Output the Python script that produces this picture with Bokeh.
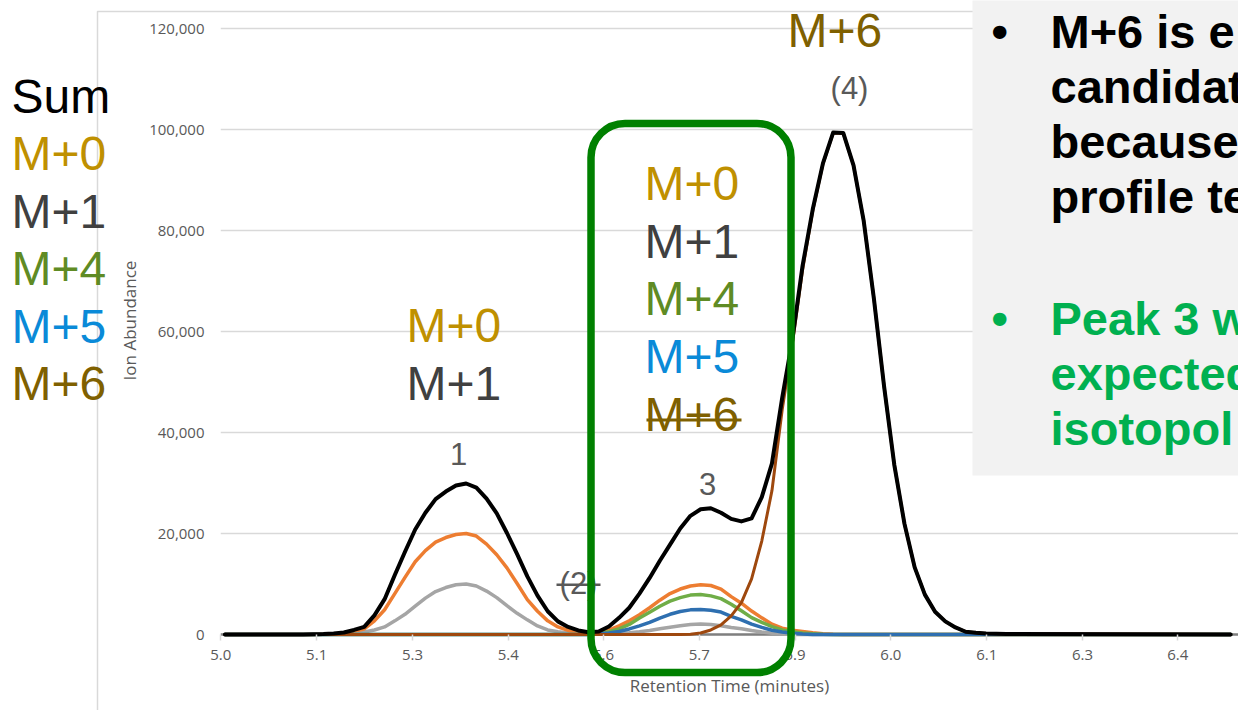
from bokeh.plotting import figure
from bokeh.models import (Label, BoxAnnotation, Span, FixedTicker,
                          NumeralTickFormatter, Range1d)
from bokeh.embed import file_html
from bokeh.resources import INLINE

# ---------------- data ----------------
TIME = [5.000, 5.100, 5.115, 5.130, 5.145, 5.160, 5.175, 5.190, 5.205, 5.220,
        5.235, 5.250, 5.265, 5.280, 5.295, 5.310, 5.325, 5.340, 5.355, 5.370,
        5.385, 5.400, 5.415, 5.430, 5.445, 5.460, 5.475, 5.490, 5.505, 5.520,
        5.535, 5.550, 5.565, 5.580, 5.595, 5.610, 5.625, 5.640, 5.655, 5.670,
        5.685, 5.700, 5.715, 5.730, 5.745, 5.760, 5.775, 5.790, 5.805, 5.820,
        5.835, 5.850, 5.865, 5.880, 5.895, 5.910, 5.925, 5.940, 5.955, 5.970,
        5.985, 6.000, 6.015, 6.030, 6.045, 6.060, 6.075, 6.090, 6.105, 6.120,
        6.135, 6.150, 6.480]

SUM = [0, 0, 0, 50, 100, 200, 400, 900, 1500, 3800,
       7000, 11800, 16400, 20800, 24100, 26800, 28300, 29500, 29900, 29100,
       26900, 24000, 20100, 15900, 11500, 7700, 4600, 2600, 1500, 800,
       450, 600, 1600, 3300, 5300, 8100, 11200, 14600, 17800, 21000,
       23500, 24800, 25000, 24100, 22900, 22400, 23000, 27200, 33900, 46800,
       58400, 73000, 84200, 93300, 99400, 99300, 92900, 81900, 66500, 49100,
       33600, 21900, 13300, 7900, 4500, 2600, 1400, 550, 350, 200,
       150, 100, 0]

M0 = [0, 0, 0, 0, 50, 100, 300, 700, 1100, 2700,
      4900, 8100, 11300, 14400, 16600, 18300, 19200, 19800, 20000, 19500,
      17900, 15800, 13200, 10100, 6900, 4600, 2700, 1500, 800, 250,
      100, 350, 850, 1700, 2700, 3900, 5300, 6800, 8100, 9000,
      9600, 9850, 9700, 9000, 7500, 6200, 4650, 3300, 2050, 1250,
      850, 600, 350, 150, 50, 0, 0, 0, 0, 0,
      0, 0, 0, 0, 0, 0, 0, 0, 0, 0,
      0, 0, 0]

M1 = [0, 0, 0, 0, 0, 50, 100, 250, 500, 900,
      1500, 2700, 4000, 5600, 7200, 8500, 9300, 9850, 10000, 9600,
      8600, 7300, 5700, 4200, 2900, 1700, 900, 550, 300, 100,
      50, 50, 100, 200, 350, 550, 800, 1150, 1450, 1750,
      2000, 2100, 2000, 1750, 1400, 1150, 800, 500, 250, 100,
      0, 0, 0, 0, 0, 0, 0, 0, 0, 0,
      0, 0, 0, 0, 0, 0, 0, 0, 0, 0,
      0, 0, 0]

M4 = [0] * 31 + [200, 550, 1100, 2000, 3250, 4400, 5600, 6600, 7300, 7800,
                 7900, 7650, 7100, 6000, 4700, 3350, 2400, 1550, 900, 550,
                 280, 150, 50] + [0] * 19

M5 = [0] * 31 + [100, 300, 600, 1100, 1700, 2400, 3250, 4000, 4550, 4880,
                 4950, 4800, 4450, 3600, 2900, 2050, 1400, 850, 500, 250,
                 100] + [0] * 21

M6 = [0] * 40 + [50, 300, 900, 1900, 3700, 6300, 11000, 18500, 28500, 44500,
                 57500, 72200, 83900, 93200, 99300, 99200, 92900, 81900, 66500, 49100,
                 33600, 21900, 13300, 7900, 4500, 2600, 1400, 550, 350, 200,
                 150, 100, 0]

Y_TICKS = [0, 20000, 40000, 60000, 80000, 100000, 120000]
X_TICK_POS = [4.994, 5.135, 5.276, 5.417, 5.557, 5.698, 5.839, 5.980, 6.121, 6.262, 6.402]
X_TICK_LABELS = ["5.0", "5.1", "5.3", "5.4", "5.6", "5.7", "5.9", "6.0", "6.1", "6.3", "6.4"]

SERIES = [  # (values, colour, width) in drawing order
    (M1, "#a5a5a5", 3.5),
    (M0, "#ed7d31", 3.5),
    (M4, "#70ad47", 3.5),
    (M5, "#2e6fb0", 3.5),
    (M6, "#9e480e", 3.0),
    (SUM, "#000000", 4.0),
]

GOLD, DARK, OLIVE, BLUE, BROWN, GREY = "#bf9000", "#404040", "#5f8b24", "#0a8ad8", "#7f6000", "#595959"
PANEL_GREEN_COL = "#00b050"
ABS = {"position": "absolute", "left": "0px", "top": "0px"}

# ---------------- chart figure ----------------
p = figure(width=1238, height=710, output_backend="svg", toolbar_location=None,
           x_range=Range1d(4.9935, 6.4915), y_range=Range1d(-1188, 125545),
           min_border_left=220, min_border_right=0, min_border_top=0,
           min_border_bottom=70,
           x_axis_label="Retention Time (minutes)", y_axis_label="Ion Abundance")
p.styles = ABS
p.outline_line_color = None
p.background_fill_color = "white"
p.border_fill_color = "white"

xa = p.xaxis[0]
xa.ticker = FixedTicker(ticks=X_TICK_POS)
xa.major_label_overrides = {pos: lab for pos, lab in zip(X_TICK_POS, X_TICK_LABELS)}
xa.axis_line_color = None
xa.major_tick_in = 6
xa.major_tick_out = 0
xa.major_tick_line_color = "#d9d9d9"
xa.major_tick_line_width = 1.5
xa.minor_tick_line_color = None
xa.major_label_standoff = 9
xa.axis_label_standoff = 11
ya = p.yaxis[0]
ya.ticker = FixedTicker(ticks=Y_TICKS)
ya.formatter = NumeralTickFormatter(format="0,0")
ya.axis_line_color = None
ya.major_tick_line_color = None
ya.minor_tick_line_color = None
ya.major_label_standoff = 10
ya.axis_label_standoff = 5
for ax in (xa, ya):
    ax.major_label_text_font = "Open Sans"
    ax.major_label_text_font_size = "15px"
    ax.major_label_text_color = GREY
    ax.axis_label_text_font = "Open Sans"
    ax.axis_label_text_font_size = "17px"
    ax.axis_label_text_font_style = "normal"
    ax.axis_label_text_color = GREY

p.xgrid.grid_line_color = None
p.ygrid.ticker = FixedTicker(ticks=Y_TICKS)
p.ygrid.grid_line_color = "#d9d9d9"
p.ygrid.grid_line_width = 1.5

p.add_layout(Span(location=0, dimension="width", line_color="#7f7f7f",
                  line_width=2.5, level="underlay"))

for vals, col, w in SERIES:
    p.line(TIME, vals, line_color=col, line_width=w, line_join="round", line_cap="round")

# ---------------- slide overlay (texts and shapes on top of the chart) ----------------
ov = figure(width=1238, height=710, output_backend="svg", toolbar_location=None,
            x_range=Range1d(0, 1238), y_range=Range1d(710, 0),
            x_axis_type=None, y_axis_type=None, min_border=0,
            background_fill_color=None, border_fill_color=None,
            outline_line_color=None)
ov.styles = ABS
ov.grid.visible = False


def box(l, r, t, b, **kw):
    ov.add_layout(BoxAnnotation(left=l, right=r, top=t, bottom=b,
                                left_units="canvas", right_units="canvas",
                                top_units="canvas", bottom_units="canvas", **kw))


def label(text, x, base, color, size, bold=False, align="left"):
    # base = wanted baseline (px from top); bokeh places the text ~0.36em lower
    ov.add_layout(Label(x=x, y=base - 0.36 * size, x_units="canvas", y_units="canvas",
                        text=text, text_color=color, text_font="Liberation Sans",
                        text_font_size=f"{size}px",
                        text_font_style="bold" if bold else "normal",
                        text_align=align, text_baseline="alphabetic"))


# chart-area border
box(97, 1400, 11, 900, fill_color=None, fill_alpha=0, line_color="#d9d9d9",
    line_alpha=1, line_width=1.5)
# grey text panel
box(972, 1400, -20, 475, fill_color="#f2f2f2", fill_alpha=1, line_color=None)

LEFT_TEXT = [("Sum", 113, "#000000"), ("M+0", 170, GOLD), ("M+1", 228, DARK),
             ("M+4", 285, OLIVE), ("M+5", 343, BLUE), ("M+6", 400, BROWN)]
for t, y, c in LEFT_TEXT:
    label(t, 11, y, c, 48)

label("M+0", 406, 342, GOLD, 48)
label("M+1", 406, 400, DARK, 48)

BOX_TEXT = [("M+0", 200, GOLD), ("M+1", 258, DARK), ("M+4", 315, OLIVE),
            ("M+5", 373, BLUE), ("M+6", 431, BROWN)]
for t, y, c in BOX_TEXT:
    label(t, 644, y, c, 48)
box(646, 741, 418, 421, fill_color=BROWN, fill_alpha=1, line_color=None)

label("M+6", 787, 47, BROWN, 48)

PEAKS = [("1", 458, 465), ("(2)", 578, 594), ("3", 707, 495), ("(4)", 849, 99)]
for t, x, y in PEAKS:
    label(t, x, y, GREY, 31, align="center")
box(556, 600, 583, 585.5, fill_color=GREY, fill_alpha=1, line_color=None)

# green highlight box
box(590.5, 790.5, 123, 672, fill_color=None, fill_alpha=0, line_color="#008000",
    line_alpha=1, line_width=7.5, border_radius=34)

# panel text
PANEL_BLACK = ["M+6 is e", "candidat", "because", "profile te"]
PANEL_GREEN = ["Peak 3 w", "expected", "isotopol"]
label("\u2022", 991, 48, "#000000", 47, bold=True)
for i, t in enumerate(PANEL_BLACK):
    label(t, 1050, 48 + 55 * i, "#000000", 47, bold=True)
label("\u2022", 991, 335, PANEL_GREEN_COL, 47, bold=True)
for i, t in enumerate(PANEL_GREEN):
    label(t, 1050, 335 + 55 * i, PANEL_GREEN_COL, 47, bold=True)

open("out.html", "w").write(file_html([p, ov], INLINE))
